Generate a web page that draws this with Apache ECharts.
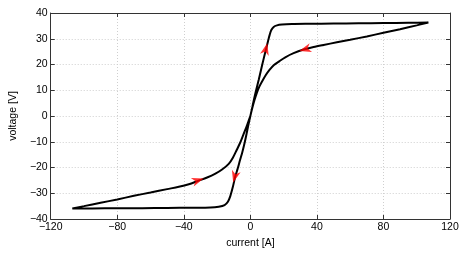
<!DOCTYPE html>
<html><head><meta charset="utf-8">
<script src="https://cdn.jsdelivr.net/npm/echarts@6/dist/echarts.min.js"></script>
<style>html,body{margin:0;padding:0;background:#fff}#c{width:471px;height:256px}</style>
</head><body><div id="c"></div>
<script>
// Hysteresis loop path (current [A], voltage [V]) in drawing order
const currentA = [
  0, 1.2, 2.3, 3.5, 5, 6.4, 7.8, 9.3, 10.6, 11.6, 12.6, 14, 16, 19, 25, 35, 50, 65, 80, 95, 107,
  100, 90, 80, 70, 60, 52, 44, 38, 32, 26, 21, 17.5, 14.2, 11.5, 9.3, 7.2, 5.4, 3.8, 2.5, 1.2, 0,
  -1.2, -2.3, -3.3, -4.8, -6.2, -7.6, -9.1, -10.5, -12, -13.5, -15.5, -19, -24, -35, -50, -65, -80, -95, -107,
  -100, -90, -80, -70, -60, -50, -43, -37, -31.5, -26, -21, -17, -13, -10.5, -8.2, -6, -4.3, -2.5, -1, 0
];
const voltageV = [
  0, 3.5, 6.8, 10.1, 14, 17.9, 21.7, 25.6, 29, 31.5, 33.4, 34.6, 35.2, 35.5, 35.7, 35.8, 35.9, 36, 36.1, 36.2, 36.3,
  35.2, 33.7, 32.3, 30.9, 29.6, 28.6, 27.6, 26.8, 25.8, 24.4, 22.8, 21.3, 19.8, 17.9, 15.9, 13.6, 11.4, 8.8, 6.2, 3.2, 0,
  -3.5, -7, -10, -14, -17.1, -20.4, -23.6, -27.5, -31, -33.3, -34.6, -35.2, -35.5, -35.6, -35.7, -35.8, -35.8, -35.9, -35.9,
  -35, -33.7, -32.4, -31, -29.7, -28.4, -27.5, -26.5, -25.2, -23.9, -22.4, -20.8, -18.6, -16.2, -13.2, -10.2, -7.4, -4.5, -1.8, 0
];
// Direction arrows: position and heading (degrees, counter-clockwise from +x on screen)
const arrowCurrent = [9.3, 32.9, -31.5, -9.4];
const arrowVoltage = [26, 25.9, -25, -23.6];
const arrowHeading = [76, 196, 18, 255];

const xTicks = {min: -120, max: 120, interval: 40};
const yTicks = {min: -40, max: 40, interval: 10};

const loop = currentA.map((x, i) => [x, voltageV[i]]);
const arrows = arrowCurrent.map((x, i) => ({value: [x, arrowVoltage[i]], symbolRotate: arrowHeading[i] - 90}));

const FONT = 'Liberation Sans';
const fmt = v => String(v).replace('-', '\u2212');
const chart = echarts.init(document.getElementById('c'), null, {renderer: 'canvas'});
const axisLine = {show: true, onZero: false, lineStyle: {color: '#333', width: 1}};
const tick = {show: true, inside: true, length: 4, lineStyle: {color: '#333'}};
chart.setOption({
  animation: false,
  grid: {left: 38, right: 21, top: 13, bottom: 37},
  xAxis: [{
    type: 'value', min: xTicks.min, max: xTicks.max, interval: xTicks.interval,
    name: 'current [A]', nameLocation: 'middle', nameGap: 11,
    nameTextStyle: {fontFamily: FONT, fontSize: 10.5, color: '#000'},
    axisLine: axisLine, axisTick: tick,
    axisLabel: {fontFamily: FONT, fontSize: 10.5, color: '#000', margin: 3, formatter: fmt},
    splitLine: {show: true, lineStyle: {color: '#cfcfcf', type: [1, 2], width: 1}}
  }, {
    type: 'value', position: 'top', min: xTicks.min, max: xTicks.max, interval: xTicks.interval,
    axisLine: axisLine, axisTick: tick, axisLabel: {show: false}, splitLine: {show: false}
  }],
  yAxis: [{
    type: 'value', min: yTicks.min, max: yTicks.max, interval: yTicks.interval,
    name: 'voltage [V]', nameLocation: 'middle', nameGap: 25,
    nameTextStyle: {fontFamily: FONT, fontSize: 10.5, color: '#000'},
    axisLine: axisLine, axisTick: tick,
    axisLabel: {fontFamily: FONT, fontSize: 10.5, color: '#000', margin: 3, formatter: fmt},
    splitLine: {show: true, lineStyle: {color: '#cfcfcf', type: [1, 2], width: 1}}
  }, {
    type: 'value', position: 'right', min: yTicks.min, max: yTicks.max, interval: yTicks.interval,
    axisLine: axisLine, axisTick: tick, axisLabel: {show: false}, splitLine: {show: false}
  }],
  series: [{
    type: 'line', data: loop, showSymbol: false, smooth: 0.3,
    lineStyle: {color: '#000', width: 2}, z: 3
  }, {
    type: 'scatter', data: arrows,
    symbol: 'path://M0,0 L5,12 L0,8.5 L-5,12 Z', symbolSize: [9, 12],
    itemStyle: {color: '#ff0000'}, z: 4
  }]
});
</script></body></html>
